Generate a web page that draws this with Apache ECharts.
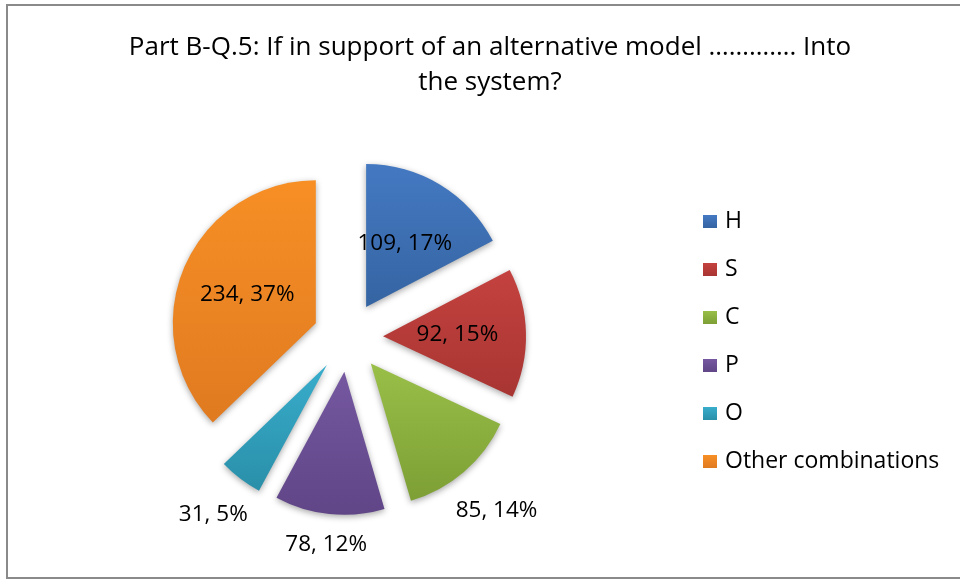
<!DOCTYPE html>
<html><head><meta charset="utf-8">
<script src="https://cdn.jsdelivr.net/npm/echarts@6/dist/echarts.min.js"></script>
<style>html,body{margin:0;padding:0;background:#fff}#c{width:960px;height:580px}</style>
</head><body><div id="c"></div>
<script>
// ---- data ----
const categories = ['H', 'S', 'C', 'P', 'O', 'Other combinations'];
const values = [109, 92, 85, 78, 31, 234];
const labelInside = [true, true, false, false, false, true];
const titleText = 'Part B-Q.5: If in support of an alternative model …………. Into\nthe system?';

// ---- style ----
const colorsTop = ['#4479c2', '#c4423f', '#99bf48', '#7558a0', '#38adcc', '#f78f25'];
const colorsBottom = ['#3564a2', '#a83532', '#7d9f35', '#604587', '#2a8fa9', '#e07a20'];
const FONT = 'Open Sans';
const LABEL_SIZE = 22.5;
const CENTER = [348, 337], RADIUS = 143, OFFSET = 35, GAP = 15;

const total = values.reduce((a, b) => a + b, 0);
const ctx = document.createElement('canvas').getContext('2d');
ctx.font = LABEL_SIZE + 'px ' + FONT;

let acc = 0;
const pieData = categories.map((name, i) => {
  const mid = (acc + values[i] / 2) / total * 2 * Math.PI;
  acc += values[i];
  const dx = Math.sin(mid), dy = -Math.cos(mid);
  const txt = values[i] + ', ' + Math.round(values[i] / total * 100) + '%';
  const w = ctx.measureText(txt).width, h = LABEL_SIZE * 1.0;
  const ext = Math.abs(dx) * w / 2 + Math.abs(dy) * h / 2;
  return {
    name: name,
    value: values[i],
    selected: true,
    itemStyle: {
      color: new echarts.graphic.LinearGradient(0, 0, 0, 1, [
        { offset: 0, color: colorsTop[i] },
        { offset: 1, color: colorsBottom[i] }
      ])
    },
    label: { position: labelInside[i] ? 'inside' : 'outside' },
    labelLine: { show: false, length: GAP + ext, length2: 0 }
  };
});

const chart = echarts.init(document.getElementById('c'));
chart.setOption({
  backgroundColor: '#fff',
  animation: false,
  color: colorsTop,
  title: {
    text: titleText,
    left: 485,
    textAlign: 'center',
    top: 25,
    textStyle: { fontFamily: FONT, fontSize: 26, fontWeight: 'normal', color: '#000', lineHeight: 35 }
  },
  legend: {
    orient: 'vertical',
    left: 698,
    top: 205,
    itemWidth: 14,
    itemHeight: 13,
    itemGap: 25,
    icon: 'rect',
    textStyle: { fontFamily: FONT, fontSize: 23, color: '#000', padding: [0, 0, 0, 3] },
    data: categories
  },
  graphic: [{
    type: 'rect', silent: true,
    shape: { x: 7, y: 5, width: 970, height: 573 },
    style: { fill: 'none', stroke: '#8a8a8a', lineWidth: 2 }
  }],
  series: [{
    type: 'pie',
    center: CENTER,
    radius: RADIUS,
    startAngle: 90,
    clockwise: true,
    selectedMode: 'multiple',
    selectedOffset: OFFSET,
    avoidLabelOverlap: false,
    percentPrecision: 0,
    emphasis: { disabled: true },
    itemStyle: { shadowBlur: 6, shadowColor: 'rgba(0,0,0,0.35)', shadowOffsetY: 2 },
    label: {
      show: true,
      formatter: '{c}, {d}%',
      color: '#000',
      fontSize: LABEL_SIZE,
      fontFamily: FONT,
      distanceToLabelLine: 0
    },
    labelLayout: function () { return { align: 'center', verticalAlign: 'middle' }; },
    data: pieData
  }]
});
</script>
</body></html>
